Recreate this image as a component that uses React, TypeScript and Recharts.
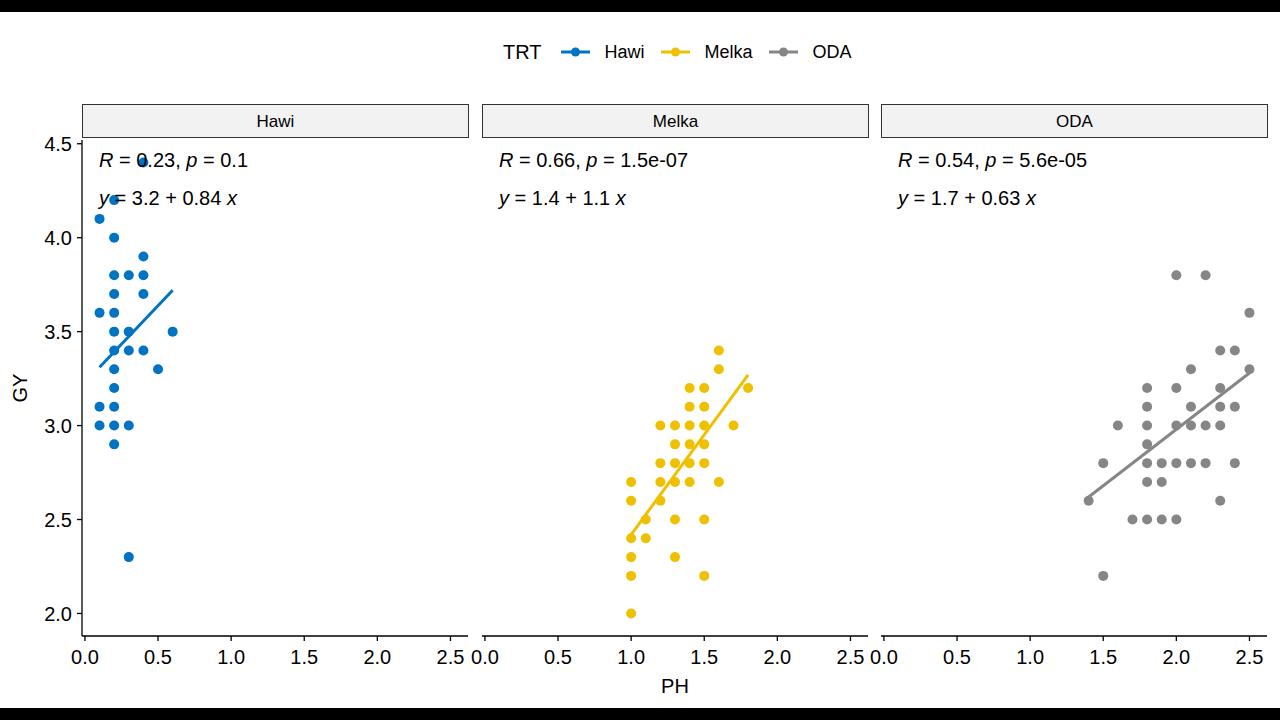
import React from 'react';
import { ScatterChart, Scatter, XAxis, YAxis } from 'recharts';

const FONT = '"Liberation Sans", Arial, Helvetica, sans-serif';

const TREATMENTS = ['Hawi', 'Melka', 'ODA'];
const COLORS = ['#0073C2', '#EFC000', '#868686'];

const PH_TICKS = [0, 0.5, 1, 1.5, 2, 2.5];
const GY_TICKS = [2, 2.5, 3, 3.5, 4, 4.5];

// Hawi
const hawiPH = [0.4, 0.2, 0.1, 0.2, 0.4, 0.2, 0.3, 0.4, 0.2, 0.4, 0.1, 0.2, 0.2, 0.3, 0.6, 0.2, 0.3, 0.4, 0.2, 0.5, 0.2, 0.1, 0.2, 0.1, 0.2, 0.3, 0.2, 0.3];
const hawiGY = [4.4, 4.2, 4.1, 4.0, 3.9, 3.8, 3.8, 3.8, 3.7, 3.7, 3.6, 3.6, 3.5, 3.5, 3.5, 3.4, 3.4, 3.4, 3.3, 3.3, 3.2, 3.1, 3.1, 3.0, 3.0, 3.0, 2.9, 2.3];

// Melka
const melkaPH = [1.6, 1.6, 1.4, 1.5, 1.8, 1.4, 1.5, 1.2, 1.3, 1.4, 1.5, 1.7, 1.3, 1.4, 1.5, 1.2, 1.3, 1.4, 1.5, 1.0, 1.2, 1.3, 1.4, 1.6, 1.0, 1.2, 1.1, 1.3, 1.5, 1.0, 1.1, 1.0, 1.3, 1.0, 1.5, 1.0];
const melkaGY = [3.4, 3.3, 3.2, 3.2, 3.2, 3.1, 3.1, 3.0, 3.0, 3.0, 3.0, 3.0, 2.9, 2.9, 2.9, 2.8, 2.8, 2.8, 2.8, 2.7, 2.7, 2.7, 2.7, 2.7, 2.6, 2.6, 2.5, 2.5, 2.5, 2.4, 2.4, 2.3, 2.3, 2.2, 2.2, 2.0];

// ODA
const odaPH = [2.0, 2.2, 2.5, 2.3, 2.4, 2.1, 2.5, 1.8, 2.0, 2.3, 1.8, 2.1, 2.3, 2.4, 1.6, 1.8, 2.0, 2.1, 2.2, 2.3, 1.8, 1.5, 1.8, 1.9, 2.0, 2.1, 2.2, 2.4, 1.8, 1.9, 1.4, 2.3, 1.7, 1.8, 1.9, 2.0, 1.5];
const odaGY = [3.8, 3.8, 3.6, 3.4, 3.4, 3.3, 3.3, 3.2, 3.2, 3.2, 3.1, 3.1, 3.1, 3.1, 3.0, 3.0, 3.0, 3.0, 3.0, 3.0, 2.9, 2.8, 2.8, 2.8, 2.8, 2.8, 2.8, 2.8, 2.7, 2.7, 2.6, 2.6, 2.5, 2.5, 2.5, 2.5, 2.2];

// fitted lines (ends)
const fitPH = [[0.1, 0.6], [1.0, 1.8], [1.4, 2.5]];
const fitGY = [[3.31, 3.72], [2.42, 3.27], [2.62, 3.28]];

const corLabels = [
  { r: '0.23', p: '0.1' },
  { r: '0.66', p: '1.5e-07' },
  { r: '0.54', p: '5.6e-05' },
];
const eqLabels = [
  { a: '3.2', b: '0.84' },
  { a: '1.4', b: '1.1' },
  { a: '1.7', b: '0.63' },
];

const zip = (xs: number[], ys: number[]) => xs.map((x, i) => ({ x, y: ys[i] }));
const pointSets = [zip(hawiPH, hawiGY), zip(melkaPH, melkaGY), zip(odaPH, odaGY)];

const PANEL_LEFT = [82, 482, 881];
const PANEL_W = 386;
const PLOT_TOP = 140;

const fmt = (v: number) => v.toFixed(1);

function Panel({ i }: { i: number }) {
  const color = COLORS[i];
  const first = i === 0;
  const chartLeft = PANEL_LEFT[i] - 82;
  const dot = (p: any) => <circle cx={p.cx} cy={p.cy} r={5} fill={color} />;

  return (
    <div style={{ position: 'absolute', left: chartLeft, top: 0 }}>
      <ScatterChart
        width={473}
        height={720}
        margin={{ top: PLOT_TOP, right: 5, bottom: 24, left: first ? 22 : 82 }}
      >
        <XAxis
          type="number"
          dataKey="x"
          domain={[-0.02, 2.62]}
          ticks={PH_TICKS}
          interval={0}
          allowDataOverflow
          tickFormatter={fmt}
          tick={{ fontSize: 20, fill: '#000' }}
          tickSize={5}
          tickMargin={9}
          stroke="#000"
          axisLine={{ stroke: '#000', strokeWidth: 1.3 }}
          tickLine={{ stroke: '#000', strokeWidth: 1.3 }}
          height={60}
          label={
            i === 1
              ? { value: 'PH', position: 'insideBottom', offset: 3, style: { fontSize: 20, fill: '#000' } }
              : undefined
          }
        />
        <YAxis
          type="number"
          dataKey="y"
          domain={[1.88, 4.52]}
          ticks={GY_TICKS}
          interval={0}
          allowDataOverflow
          hide={!first}
          width={60}
          tickFormatter={fmt}
          tick={{ fontSize: 20, fill: '#000' }}
          tickSize={5}
          tickMargin={5}
          stroke="#000"
          axisLine={{ stroke: '#000', strokeWidth: 1.3 }}
          tickLine={{ stroke: '#000', strokeWidth: 1.3 }}
          label={{
            value: 'GY',
            angle: -90,
            position: 'insideLeft',
            offset: -2,
            style: { textAnchor: 'middle', fontSize: 20, fill: '#000' },
          }}
        />
        <Scatter data={pointSets[i]} fill={color} shape={dot} isAnimationActive={false} />
        <Scatter
          data={zip(fitPH[i], fitGY[i])}
          line={{ stroke: color, strokeWidth: 3 }}
          shape={() => <g />}
          isAnimationActive={false}
        />
      </ScatterChart>
    </div>
  );
}

export default function App() {
  return (
    <div
      style={{
        position: 'absolute',
        left: 0,
        top: 0,
        width: 1280,
        height: 720,
        overflow: 'hidden',
        background: '#fff',
        fontFamily: FONT,
        color: '#000',
      }}
    >
      <div style={{ position: 'absolute', left: 0, top: 0, width: 1280, height: 12, background: '#000' }} />
      <div style={{ position: 'absolute', left: 0, top: 708, width: 1280, height: 12, background: '#000' }} />

      {/* legend */}
      <div style={{ position: 'absolute', left: 503, top: 40, height: 24, display: 'flex', alignItems: 'center' }}>
        <span style={{ fontSize: 20, marginRight: 19 }}>TRT</span>
        {TREATMENTS.map((t, i) => (
          <div key={t} style={{ display: 'flex', alignItems: 'center', marginRight: 16 }}>
            <svg width={29} height={12} style={{ marginRight: 15 }}>
              <line x1={0} y1={6} x2={29} y2={6} stroke={COLORS[i]} strokeWidth={3} />
              <circle cx={14.5} cy={6} r={4.5} fill={COLORS[i]} />
            </svg>
            <span style={{ fontSize: 18 }}>{t}</span>
          </div>
        ))}
      </div>

      {TREATMENTS.map((t, i) => (
        <Panel key={t} i={i} />
      ))}

      {/* strips and annotations */}
      {TREATMENTS.map((t, i) => (
        <React.Fragment key={t}>
          <div
            style={{
              position: 'absolute',
              left: PANEL_LEFT[i],
              top: 104,
              width: PANEL_W + 1,
              height: 34,
              boxSizing: 'border-box',
              border: '1.3px solid #333',
              background: '#F2F2F2',
              fontSize: 17,
              paddingTop: 2,
              display: 'flex',
              alignItems: 'center',
              justifyContent: 'center',
            }}
          >
            {t}
          </div>
          <div style={{ position: 'absolute', left: PANEL_LEFT[i] + 17, top: 150, fontSize: 20, lineHeight: '20px', whiteSpace: 'nowrap' }}>
            <i>R</i> = {corLabels[i].r}, <i>p</i> = {corLabels[i].p}
          </div>
          <div style={{ position: 'absolute', left: PANEL_LEFT[i] + 17, top: 188, fontSize: 20, lineHeight: '20px', whiteSpace: 'nowrap' }}>
            <i>y</i> = {eqLabels[i].a} + {eqLabels[i].b} <i>x</i>
          </div>
        </React.Fragment>
      ))}
    </div>
  );
}
